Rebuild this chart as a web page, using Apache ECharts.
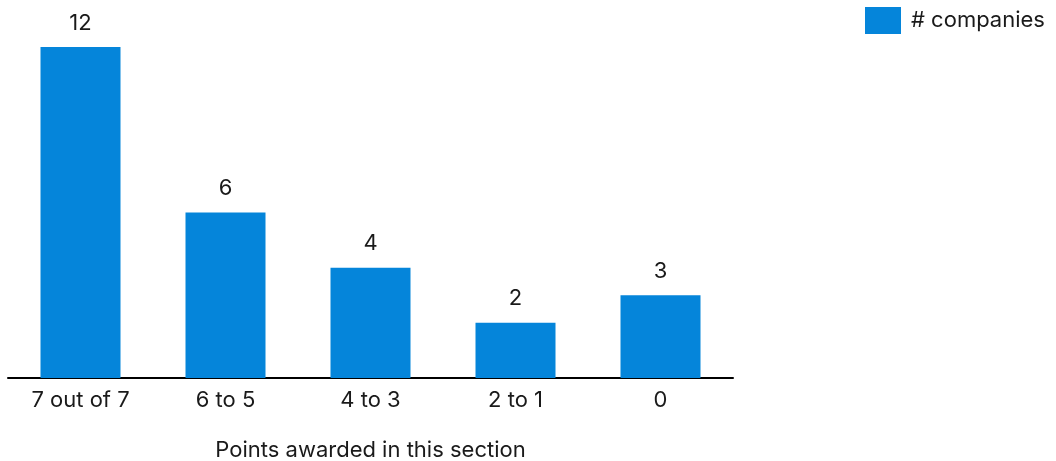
<!DOCTYPE html>
<html>
<head>
<meta charset="utf-8">
<style>
  html, body { margin: 0; padding: 0; background: #fff; }
  #chart { width: 1056px; height: 461px; }
</style>
<script src="https://cdn.jsdelivr.net/npm/echarts@6/dist/echarts.min.js"></script>
</head>
<body>
<div id="chart"></div>
<script>
// Companies grouped by the points they were awarded in this section
const categories = ['7 out of 7', '6 to 5', '4 to 3', '2 to 1', '0'];
const companies = [12, 6, 4, 2, 3];
const seriesName = '# companies';
const axisTitle = 'Points awarded in this section';

const FONT = 'Inter, "Noto Sans", sans-serif';
const TEXT = '#1a1a1a';
const BLUE = '#0585DA';

const chart = echarts.init(document.getElementById('chart'), null, { renderer: 'canvas' });
chart.setOption({
  animation: false,
  textStyle: { fontFamily: FONT },
  legend: {
    left: 865,
    top: 7,
    padding: 0,
    icon: 'rect',
    itemWidth: 36,
    itemHeight: 27,
    textStyle: { fontSize: 22, color: TEXT, fontFamily: FONT, padding: [0, 0, 0, 5] },
    data: [seriesName]
  },
  grid: { left: 8, right: 323, top: 47, bottom: 83, containLabel: false, outerBoundsMode: 'none' },
  xAxis: {
    type: 'category',
    data: categories,
    axisTick: { show: false },
    axisLine: { lineStyle: { color: '#000', width: 2 } },
    axisLabel: { fontSize: 22, color: TEXT, margin: 11, fontFamily: FONT },
    name: axisTitle,
    nameLocation: 'middle',
    nameGap: 61,
    nameTextStyle: { fontSize: 22, color: TEXT, fontFamily: FONT }
  },
  yAxis: {
    type: 'value',
    min: 0,
    max: 12,
    show: false,
    splitLine: { show: false }
  },
  series: [{
    name: seriesName,
    type: 'bar',
    data: companies,
    barWidth: 80,
    itemStyle: { color: BLUE },
    label: {
      show: true,
      position: 'top',
      distance: 13,
      fontSize: 22,
      color: TEXT,
      fontFamily: FONT
    }
  }]
});
</script>
</body>
</html>
